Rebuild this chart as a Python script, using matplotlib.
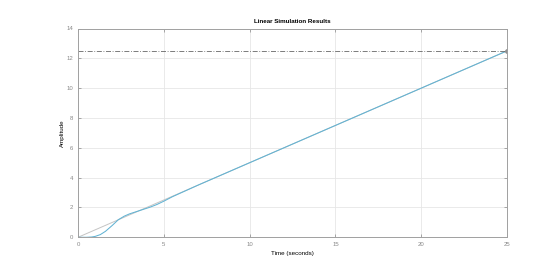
import matplotlib
matplotlib.use("Agg")
import matplotlib.pyplot as plt
import numpy as np

plt.rcParams['font.family'] = ['Liberation Sans', 'DejaVu Sans']

# Input ramp
t_in = [0, 25]
u_in = [0, 12.5]

# Response
t_resp = [0, 0.5, 0.8, 1.0, 1.3, 1.6, 2.0, 2.35, 2.7, 3.0, 3.4, 3.8, 4.2, 4.6, 5.0, 5.5, 6.0, 7.0, 8.0, 10.0, 15.0, 20.0, 25.0]
y_resp = [0, 0.0, 0.02, 0.06, 0.18, 0.4, 0.8, 1.18, 1.42, 1.57, 1.72, 1.87, 2.02, 2.2, 2.42, 2.72, 2.98, 3.5, 4.0, 5.0, 7.5, 10.0, 12.5]

final_level = 12.5

xticks = [0, 5, 10, 15, 20, 25]
yticks = [0, 2, 4, 6, 8, 10, 12, 14]

fig = plt.figure(figsize=(5.6, 2.67), dpi=100)
ax = fig.add_axes([78/560, 1 - 237.3/267, (507 - 78)/560, (237.3 - 28.5)/267])

ax.plot(t_in, u_in, color="#c4c4c4", lw=0.7)
ax.plot(t_resp, y_resp, color="#62b3d3", lw=0.75)
ax.axhline(final_level, color="#666666", lw=0.6, ls=(0, (6, 2, 1, 2)))
ax.plot([25], [final_level], "o", color="#909090", ms=2.5)

ax.set_xlim(0, 25)
ax.set_ylim(0, 14)
ax.set_xticks(xticks)
ax.set_yticks(yticks)
ax.grid(True, color="#e6e6e6", lw=0.6)
ax.set_axisbelow(True)
ax.tick_params(labelsize=4.3, colors="#888888", length=2, width=0.5, direction="in",
               top=True, right=True)
for s in ax.spines.values():
    s.set_color("#a0a0a0")
    s.set_linewidth(0.7)
ax.set_title("Linear Simulation Results", fontsize=4.5, fontweight="bold", pad=4)
ax.set_xlabel("Time (seconds)", fontsize=4.5, labelpad=3)
ax.set_ylabel("Amplitude", fontsize=4.5, labelpad=1)

fig.savefig("out.png", dpi=100)
